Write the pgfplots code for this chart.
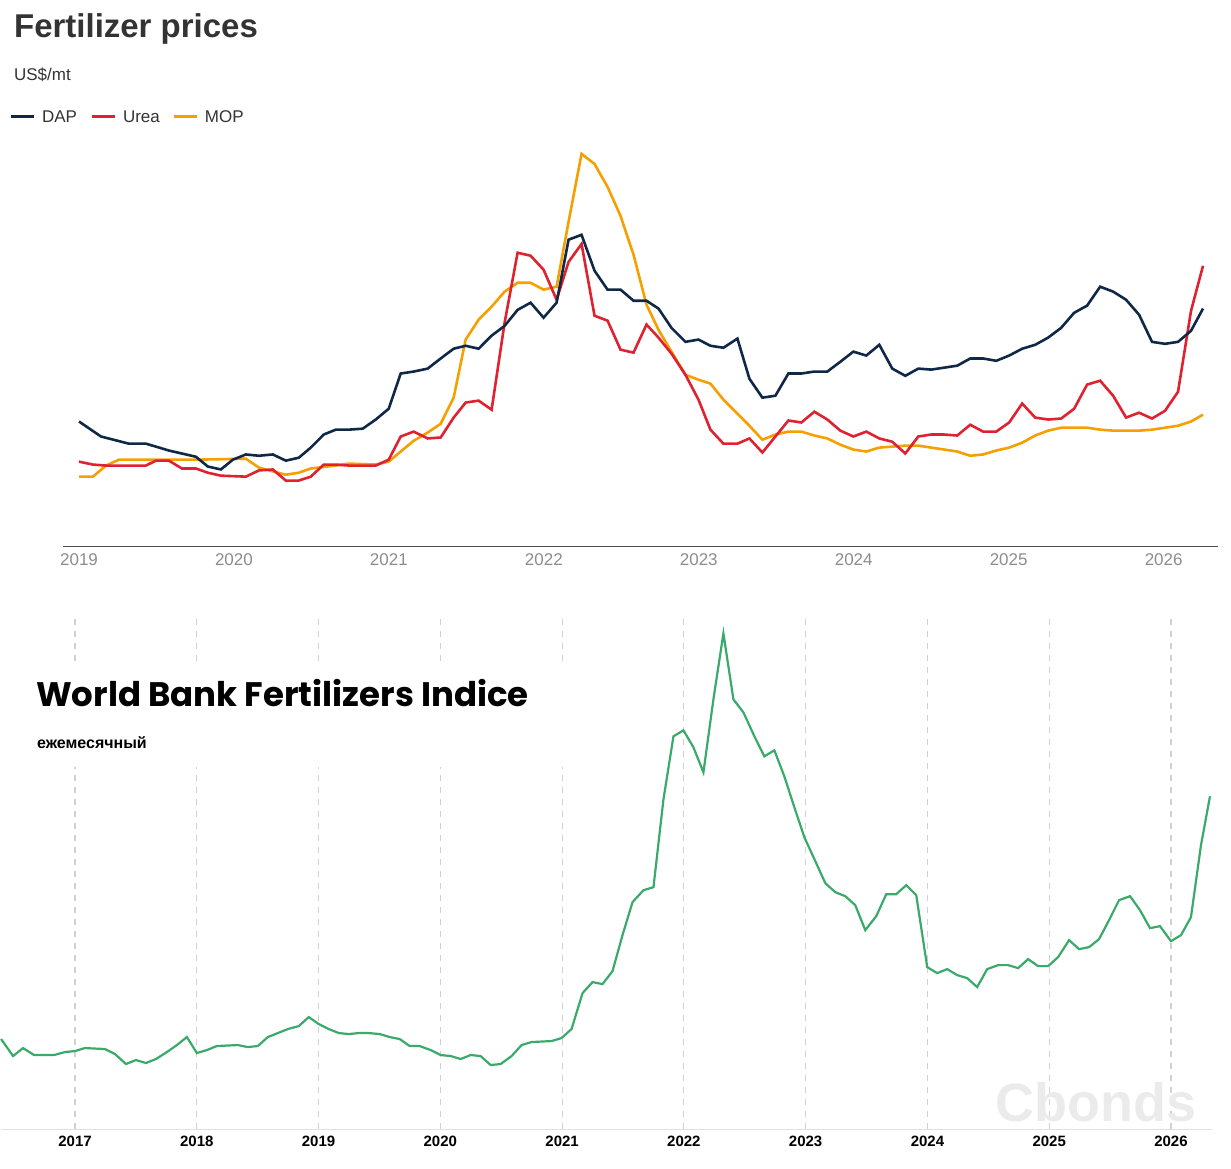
\documentclass[border=0pt]{standalone}
\usepackage{pgfplots}
\pgfplotsset{compat=1.18}
\usepackage{fontspec}
\setmainfont{Liberation Sans}
\newfontfamily\pop{Poppins}
\definecolor{dap}{HTML}{0F2847}
\definecolor{urea}{HTML}{E0212F}
\definecolor{mop}{HTML}{F5A000}
\definecolor{grn}{HTML}{3AAA6A}
\definecolor{tit}{HTML}{333333}
\begin{document}
\begin{tikzpicture}
\path (0pt,0pt) rectangle (615.5pt,585pt);
% ---------- top chart ----------
\begin{axis}[at={(31pt,311.5pt)},anchor=south west,scale only axis,
 width=578pt,height=196pt,
 xmin=2018.897,xmax=2026.35,ymin=0,ymax=1200,
 xtick={2019,...,2026},xticklabel style={/pgf/number format/1000 sep={}},
 ytick={0,200,...,1200},
 ymajorgrids,grid style={draw=black!12,line width=0.6pt},
 axis x line*=bottom,axis y line=none,
 x axis line style={draw=black!70,-},
 major tick length=0pt,
 tick label style={text=black!45,font=\fontsize{8.5}{10}\selectfont},
 /pgf/number format/assume math mode=true,
 yticklabel style={xshift=-1pt},
 clip=false]
\addplot[mop,line width=1.3pt] table[x expr=2019+(\thisrowno{0}-78)/155.1,y index=1]{
x y
78 214
92 214
105 248
118 266
145 266
195 266
245 269
258 242
272 230
285 220
298 226
310 239
335 248
348 254
375 251
388 260
400 291
413 324
427 349
440 376
453 456
465 634
478 695
491 735
504 781
517 808
530 808
543 787
556 796
568 995
581 1203
594 1172
607 1102
620 1013
633 894
646 741
658 664
671 597
685 526
698 511
710 499
723 450
737 407
749 370
762 327
775 343
788 352
801 352
814 340
827 331
840 312
853 297
866 291
879 303
905 309
918 309
931 303
957 291
970 278
983 282
996 294
1009 303
1022 318
1035 340
1048 355
1061 364
1087 364
1100 358
1113 355
1139 355
1152 358
1165 364
1178 370
1191 383
1203 404
};
\addplot[urea,line width=1.3pt] table[x expr=2019+(\thisrowno{0}-78)/155.1,y index=1]{
x y
78 260
92 251
105 248
130 248
145 248
155 263
168 263
181 239
195 239
207 226
220 217
245 214
258 233
272 236
285 202
298 202
310 214
323 251
335 251
348 248
362 248
375 248
388 266
400 337
413 352
427 331
440 334
453 395
465 441
478 447
491 419
504 686
517 900
530 891
543 848
556 756
568 872
581 927
594 707
607 692
620 603
633 594
646 680
658 640
671 591
685 526
698 450
710 358
723 315
737 315
749 331
762 288
775 337
788 386
801 380
814 413
827 389
840 355
853 337
866 352
879 331
892 321
905 285
918 337
931 343
944 343
957 340
970 373
983 352
996 352
1009 380
1022 438
1035 395
1048 389
1061 392
1074 422
1087 496
1100 508
1113 462
1126 395
1139 410
1152 392
1165 416
1178 474
1191 722
1203 860
};
\addplot[dap,line width=1.3pt] table[x expr=2019+(\thisrowno{0}-78)/155.1,y index=1]{
x y
78 383
100 337
128 315
145 315
155 306
168 294
195 275
207 245
220 236
232 266
245 282
258 278
272 282
285 263
298 272
310 303
323 343
335 358
348 358
362 361
375 389
388 422
400 530
413 536
427 545
440 576
453 606
465 615
478 606
491 646
504 676
517 725
530 747
543 701
556 747
568 940
581 955
594 845
607 787
620 787
633 753
646 753
658 729
671 670
685 627
698 634
710 615
723 609
737 637
749 514
762 456
775 462
788 530
801 530
814 536
827 536
840 566
853 597
866 585
879 618
892 545
905 523
918 545
931 542
944 548
957 554
970 576
983 576
996 569
1009 585
1022 606
1035 618
1048 640
1061 670
1074 716
1087 738
1100 796
1113 781
1126 756
1139 710
1152 627
1165 621
1178 627
1191 661
1203 729
};
\end{axis}
% ---------- bottom chart ----------
\begin{axis}[at={(0pt,20pt)},anchor=south west,scale only axis,
 width=606pt,height=257.5pt,
 xmin=2016.393,xmax=2026.336,ymin=0,ymax=515,
 xtick={2017,...,2026},xticklabel style={/pgf/number format/1000 sep={}},
 ytick=\empty,
 xmajorgrids,grid style={draw=black!18,dashed,line width=0.6pt},
 axis x line*=bottom,axis y line=none,
 x axis line style={draw=black!12,-},
 major tick length=0pt,
 tick label style={text=black,font=\bfseries\fontsize{7.5}{9}\selectfont},
 /pgf/number format/assume math mode=true,
 clip=false]
\addplot[grn,line width=1.1pt] table[x expr=2017+(\thisrowno{0}-74)/121.9,y expr=1130-\thisrowno{1}]{
x y
0 1040
12 1057
22 1049
33 1056
53 1056
64 1053
74 1052
84 1049
104 1050
114 1055
125 1065
135 1061
145 1064
155 1060
166 1053
176 1046
186 1038
196 1054
206 1051
216 1047
237 1046
247 1048
257 1047
267 1038
277 1034
287 1030
298 1027
308 1018
318 1025
328 1030
338 1034
348 1035
358 1034
368 1034
379 1035
389 1038
399 1040
409 1047
419 1047
430 1051
440 1056
450 1057
460 1060
470 1056
480 1057
490 1066
500 1065
511 1057
521 1046
531 1043
551 1042
561 1039
571 1030
582 994
592 983
602 985
612 972
622 936
632 903
643 891
653 888
663 800
673 737
683 731
693 748
703 773
713 700
723 634
733 700
743 713
754 737
764 757
774 751
784 777
794 808
804 838
815 862
825 884
835 893
845 897
855 906
865 931
876 917
886 895
896 895
906 886
916 896
927 968
937 974
947 970
957 976
967 979
977 988
987 970
998 966
1008 966
1018 969
1028 960
1038 967
1048 967
1058 958
1069 941
1079 950
1089 948
1099 940
1109 921
1119 901
1130 897
1140 911
1150 929
1160 927
1171 942
1181 936
1191 918
1201 846
1210 797
};
\end{axis}
\begin{scope}[x=0.5pt,y=-0.5pt,yshift=585pt]
\node[anchor=west,text=tit,font=\bfseries\fontsize{16.5}{18}\selectfont] at (6,29) {Fertilizer prices};
\node[anchor=west,text=tit,font=\fontsize{8.5}{10}\selectfont] at (6,75) {US\$/mt};
\foreach \c/\t/\xx in {dap/DAP/10,urea/Urea/91,mop/MOP/173}{
 \draw[\c,line width=1.5pt] (\xx,117) -- (\xx+23,117);
 \node[anchor=west,text=tit,font=\fontsize{8.5}{10}\selectfont] at (\xx+24,117) {\t};
}
\fill[white] (20,662) rectangle (625,768);
\node[anchor=west,font=\pop\bfseries\fontsize{17}{20}\selectfont] at (28,694) {World Bank Fertilizers Indice};
\node[anchor=west,font=\bfseries\fontsize{8}{10}\selectfont] at (29,743) {ежемесячный};
\node[text=black!8,font=\bfseries\fontsize{27}{30}\selectfont] at (1096,1103) {Cbonds};
\end{scope}
\end{tikzpicture}
\end{document}
